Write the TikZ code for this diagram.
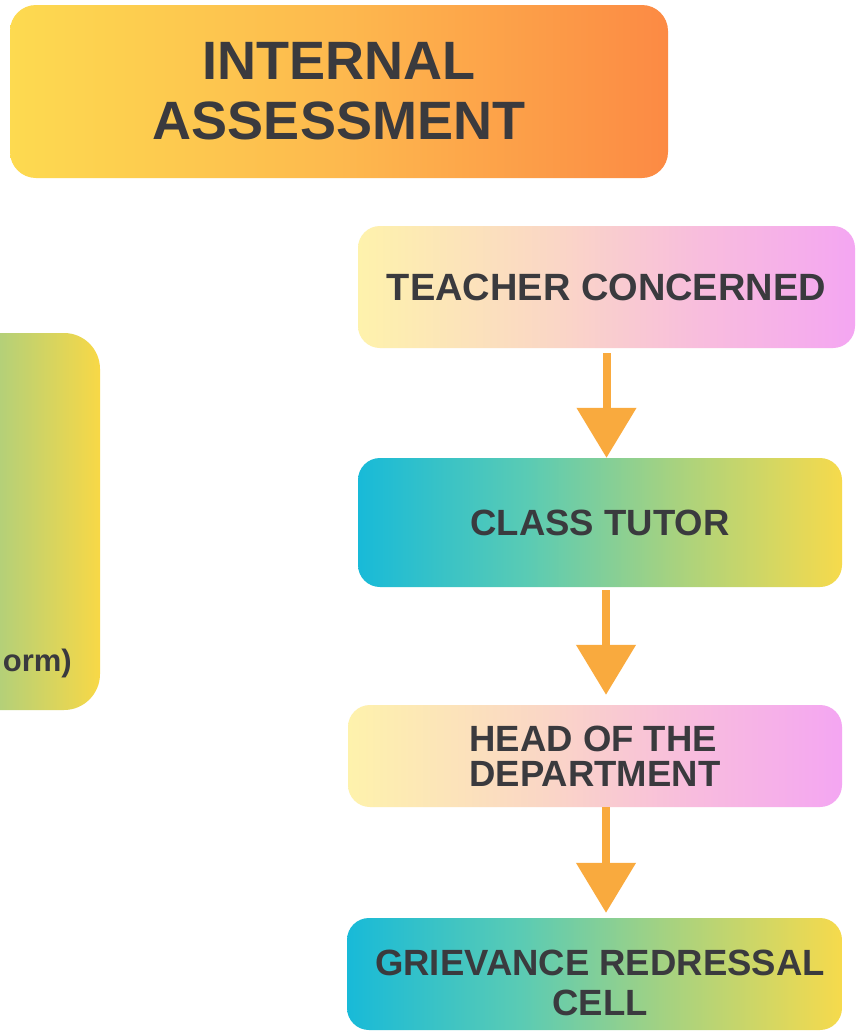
\documentclass[tikz,border=0pt]{standalone}
\usepackage{fontspec}
\setmainfont{Liberation Sans}
\usetikzlibrary{arrows.meta}
\definecolor{txt}{RGB}{58,58,62}
\definecolor{arr}{RGB}{249,170,62}
\definecolor{tiA}{RGB}{253,218,80}
\definecolor{tiB}{RGB}{253,185,78}
\definecolor{tiC}{RGB}{252,138,68}
\definecolor{pkA}{RGB}{254,242,172}
\definecolor{pkB}{RGB}{250,214,198}
\definecolor{pkC}{RGB}{248,188,222}
\definecolor{pkD}{RGB}{244,166,242}
\definecolor{cyA}{RGB}{24,186,216}
\definecolor{cyB}{RGB}{90,203,180}
\definecolor{cyC}{RGB}{166,210,128}
\definecolor{cyD}{RGB}{246,218,76}
\definecolor{lfA}{RGB}{180,208,120}
\definecolor{lfB}{RGB}{248,216,70}
% shading spans 25bp..75bp over the path
\pgfdeclarehorizontalshading{titleshade}{100bp}{color(0bp)=(tiA); color(25bp)=(tiA); color(50bp)=(tiB); color(75bp)=(tiC); color(100bp)=(tiC)}
\pgfdeclarehorizontalshading{pinkshade}{100bp}{color(0bp)=(pkA); color(25bp)=(pkA); color(45bp)=(pkB); color(60bp)=(pkC); color(75bp)=(pkD); color(100bp)=(pkD)}
\pgfdeclarehorizontalshading{cyanshade}{100bp}{color(0bp)=(cyA); color(25bp)=(cyA); color(42.5bp)=(cyB); color(57.5bp)=(cyC); color(75bp)=(cyD); color(100bp)=(cyD)}
\pgfdeclarehorizontalshading{leftshade}{100bp}{color(0bp)=(lfA); color(25bp)=(lfA); color(50bp)=(lfA); color(75bp)=(lfB); color(100bp)=(lfB)}
\tikzset{
  flowbox/.style={rounded corners=22pt, inner sep=0pt, text=txt, font=\bfseries, align=center},
  flowarrow/.style={draw=arr, line width=8pt, -{Triangle[width=58pt,length=50pt,fill=arr]}}
}
\begin{document}
\begin{tikzpicture}[x=1pt,y=-1pt]
\useasboundingbox (0,0) rectangle (856,1036);
\fill[white] (0,0) rectangle (856,1036);
\clip (0,0) rectangle (856,1036);
% title
\node[flowbox, rounded corners=26pt, shading=titleshade, minimum width=658pt, minimum height=173pt,
  font=\fontsize{54}{60}\selectfont\bfseries] (title) at (339,91.5) {INTERNAL\\ASSESSMENT};
% left partial box
\node[flowbox, rounded corners=36pt, shading=leftshade, minimum width=200pt, minimum height=377pt] (left) at (0,521.5) {};
\node[anchor=south east, inner sep=0pt, text=txt, font=\fontsize{31}{31}\selectfont\bfseries] (lefttext) at (72,678) {orm)};
% flow boxes
\node[flowbox, shading=pinkshade, minimum width=497pt, minimum height=122pt, font=\fontsize{38}{40}\selectfont\bfseries] (tc) at (606.5,287) {TEACHER CONCERNED};
\node[flowbox, shading=cyanshade, minimum width=484pt, minimum height=129pt, font=\fontsize{36.5}{40}\selectfont\bfseries] (ct) at (600,522.5) {CLASS TUTOR};
\node[flowbox, shading=pinkshade, minimum width=494pt, minimum height=102pt, align=left, font=\fontsize{36.5}{35}\selectfont\bfseries] (hod) at (595,756) {HEAD OF THE\\DEPARTMENT};
\node[flowbox, shading=cyanshade, minimum width=495pt, minimum height=112pt, font=\fontsize{36.5}{40}\selectfont\bfseries] (grc) at (594.5,974) {};
\node[inner sep=0pt, text=txt, align=center, font=\fontsize{36.5}{40}\selectfont\bfseries] (grctext) at (600,983) {GRIEVANCE REDRESSAL\\CELL};
% arrows
\draw[flowarrow] ([yshift=-5pt]tc.south) -- (tc.south |- ct.north);
\draw[flowarrow] ([xshift=6pt,yshift=-3pt]ct.south) -- ([xshift=6pt,yshift=10pt]ct.south |- hod.north);
\draw[flowarrow] ([xshift=11pt]hod.south) -- ([xshift=11pt,yshift=5pt]hod.south |- grc.north);
\end{tikzpicture}
\end{document}
